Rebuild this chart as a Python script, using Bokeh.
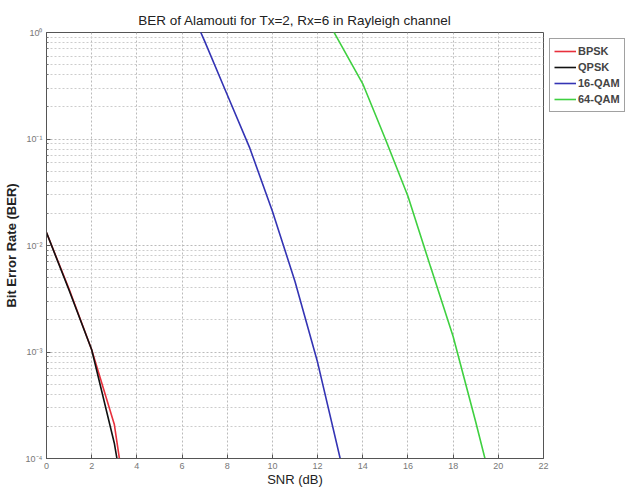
from bokeh.plotting import figure
from bokeh.models import FixedTicker, Legend, LegendItem, Range1d
from bokeh.embed import file_html
from bokeh.resources import INLINE

# SNR (dB) grid points
snr_bpsk = [0, 1, 2, 3, 4]
ber_bpsk = [1.32e-2, 3.9e-3, 1.05e-3, 2.1e-4, 8.0e-6]

snr_qpsk = [0, 1, 2, 3, 4]
ber_qpsk = [1.32e-2, 3.8e-3, 1.05e-3, 1.4e-4, 8.0e-6]

snr_16qam = [6, 7, 8, 9, 10, 11, 12, 13]
ber_16qam = [2.5, 0.83, 0.26, 0.082, 0.021, 4.6e-3, 8.0e-4, 1.0e-4]

snr_64qam = [12, 13, 14, 15, 16, 17, 18, 19, 20]
ber_64qam = [1.9, 0.79, 0.33, 0.10, 0.029, 6.3e-3, 1.4e-3, 2.2e-4, 3.2e-5]

x_ticks = list(range(0, 23, 2))
y_ticks = [1e-4, 1e-3, 1e-2, 1e-1, 1.0]
y_tick_labels = {1e-4: "10⁻⁴", 1e-3: "10⁻³", 1e-2: "10⁻²", 1e-1: "10⁻¹", 1.0: "10⁰"}

FONT = "Liberation Sans"

p = figure(
    frame_width=497, frame_height=426,
    y_axis_type="log",
    x_range=Range1d(0, 22), y_range=Range1d(1e-4, 1.0),
    output_backend="svg", toolbar_location=None,
    min_border_left=0, min_border_top=32, min_border_bottom=30, min_border_right=0,
    background_fill_color="white", border_fill_color="white",
    title="BER of Alamouti for Tx=2, Rx=6 in Rayleigh channel",
)
p.title.text_font = FONT
p.title.text_font_size = "13.5px"
p.title.text_font_style = "normal"
p.title.align = "center"
p.title.offset = 15
p.title.text_color = "#222222"

p.outline_line_color = "#555555"
p.outline_line_width = 1

minor_y = []
for e in range(-4, 0):
    for k in range(2, 10):
        minor_y.append(k * 10.0 ** e)

p.yaxis.ticker = FixedTicker(ticks=y_ticks, minor_ticks=minor_y)
p.xaxis.ticker = FixedTicker(ticks=x_ticks)
p.yaxis.major_label_overrides = y_tick_labels

for ax in (p.xaxis, p.yaxis):
    ax.axis_line_color = "#555555"
    ax.major_tick_in = 4
    ax.major_tick_out = 0
    ax.minor_tick_in = 2
    ax.minor_tick_out = 0
    ax.major_tick_line_color = "#555555"
    ax.minor_tick_line_color = "#777777"
    ax.major_label_text_font = FONT
    ax.major_label_text_font_size = "9px"
    ax.major_label_text_color = "#777777"
    ax.major_label_standoff = 4
    ax.axis_label_text_font = FONT
    ax.axis_label_text_color = "#222222"

p.xaxis.axis_label = "SNR (dB)"
p.xaxis.axis_label_text_font_size = "13px"
p.xaxis.axis_label_text_font_style = "normal"
p.xaxis.axis_label_standoff = 0
p.yaxis.axis_label = "Bit Error Rate (BER)"
p.yaxis.axis_label_text_font_size = "13px"
p.yaxis.axis_label_text_font_style = "bold"
p.yaxis.axis_label_standoff = 4

p.xgrid.grid_line_color = "#bbbbbb"
p.xgrid.grid_line_dash = "2 2"
p.ygrid.grid_line_color = "#bbbbbb"
p.ygrid.grid_line_dash = "2 2"
p.ygrid.minor_grid_line_color = "#cccccc"
p.ygrid.minor_grid_line_dash = "2 2"

r1 = p.line(snr_bpsk, ber_bpsk, line_color="#e8303c", line_width=1.6)
r2 = p.line(snr_qpsk, ber_qpsk, line_color="#111111", line_width=1.6)
r3 = p.line(snr_16qam, ber_16qam, line_color="#3434b4", line_width=1.6)
r4 = p.line(snr_64qam, ber_64qam, line_color="#3fd040", line_width=1.6)

legend = Legend(items=[
    LegendItem(label="BPSK", renderers=[r1]),
    LegendItem(label="QPSK", renderers=[r2]),
    LegendItem(label="16-QAM", renderers=[r3]),
    LegendItem(label="64-QAM", renderers=[r4]),
], location="top_left")
legend.margin = 6
legend.padding = 4
legend.spacing = 0
legend.glyph_width = 22
legend.glyph_height = 16
legend.label_standoff = 2
legend.label_text_font = FONT
legend.label_text_font_size = "11px"
legend.label_text_font_style = "bold"
legend.label_height = 16
legend.border_line_color = "#444444"
legend.border_line_width = 1
p.add_layout(legend, "right")

open("out.html", "w").write(file_html(p, INLINE))
